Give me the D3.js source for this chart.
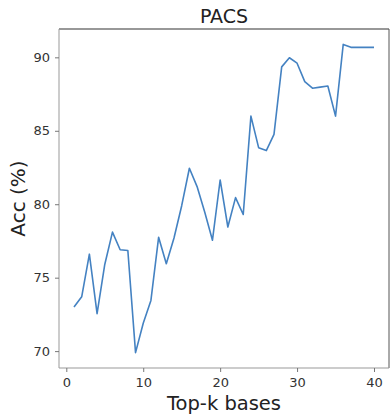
<!DOCTYPE html>
<html><head><meta charset="utf-8">
<script src="https://cdn.jsdelivr.net/npm/d3@7"></script>
<style>html,body{margin:0;padding:0;background:#fff;}svg{display:block;}</style>
</head><body>
<script>
const title = "PACS";
const xLabel = "Top-k bases";
const yLabel = "Acc (%)";
const kValues = d3.range(1, 41);
const accValues = [73.0, 73.7, 76.6, 72.55, 75.9, 78.1, 76.9, 76.85, 69.9, 71.9,
  73.45, 77.75, 75.95, 77.7, 79.9, 82.45, 81.2, 79.45, 77.55, 81.65,
  78.45, 80.45, 79.3, 86.0, 83.85, 83.65, 84.75, 89.35, 89.97, 89.6,
  88.35, 87.9, 87.97, 88.05, 86.0, 90.88, 90.68, 90.68, 90.68, 90.68];
const xTicks = [0, 10, 20, 30, 40];
const yTicks = [70, 75, 80, 85, 90];

const W = 390, H = 414;
const m = {left: 59, right: 1, top: 29, bottom: 46};
const svg = d3.select("body").append("svg").attr("width", W).attr("height", H);
const pw = W - m.left - m.right, ph = H - m.top - m.bottom;
const g = svg.append("g").attr("transform", `translate(${m.left},${m.top})`);

const xMin = d3.min(kValues), xMax = d3.max(kValues);
const yMin = d3.min(accValues), yMax = d3.max(accValues);
const xm = (xMax - xMin) * 0.05, ym = (yMax - yMin) * 0.05;
const x = d3.scaleLinear().domain([xMin - xm, xMax + xm]).range([0, pw]);
const y = d3.scaleLinear().domain([yMin - ym, yMax + ym]).range([ph, 0]);

const font = "'DejaVu Sans', sans-serif";

// frame
g.append("line").attr("x1",0).attr("x2",pw).attr("y1",0).attr("y2",0).attr("stroke","#333").attr("stroke-width",1.2);
g.append("line").attr("x1",pw).attr("x2",pw).attr("y1",0).attr("y2",ph).attr("stroke","#555").attr("stroke-width",1);
g.append("line").attr("x1",0).attr("x2",0).attr("y1",0).attr("y2",ph).attr("stroke","#999").attr("stroke-width",1);
g.append("line").attr("x1",0).attr("x2",pw).attr("y1",ph).attr("y2",ph).attr("stroke","#999").attr("stroke-width",1);

const xAxis = g.append("g").attr("transform", `translate(0,${ph})`)
  .call(d3.axisBottom(x).tickValues(xTicks).tickSize(4).tickPadding(6).tickFormat(d3.format("d")));
const yAxis = g.append("g")
  .call(d3.axisLeft(y).tickValues(yTicks).tickSize(4).tickPadding(5).tickFormat(d3.format("d")));
[xAxis, yAxis].forEach(a => {
  a.select(".domain").remove();
  a.selectAll(".tick line").attr("stroke", "#777");
  a.selectAll(".tick text").attr("fill", "#333").style("font-family", font).style("font-size", "13px");
});

const line = d3.line().x((d, i) => x(kValues[i])).y(d => y(d));
g.append("path").datum(accValues).attr("d", line)
  .attr("fill", "none").attr("stroke", "#4482c2").attr("stroke-width", 1.6).attr("stroke-linejoin", "round");

svg.append("text").attr("x", m.left + pw / 2).attr("y", 23).attr("text-anchor", "middle")
  .style("font-family", font).style("font-size", "19px").attr("fill", "#222").text(title);
svg.append("text").attr("x", m.left + pw / 2).attr("y", 410).attr("text-anchor", "middle")
  .style("font-family", font).style("font-size", "19.5px").attr("fill", "#222").text(xLabel);
svg.append("text").attr("transform", `translate(25,${m.top + ph / 2}) rotate(-90)`).attr("text-anchor", "middle")
  .style("font-family", font).style("font-size", "20px").attr("fill", "#222").text(yLabel);
</script>
</body></html>
